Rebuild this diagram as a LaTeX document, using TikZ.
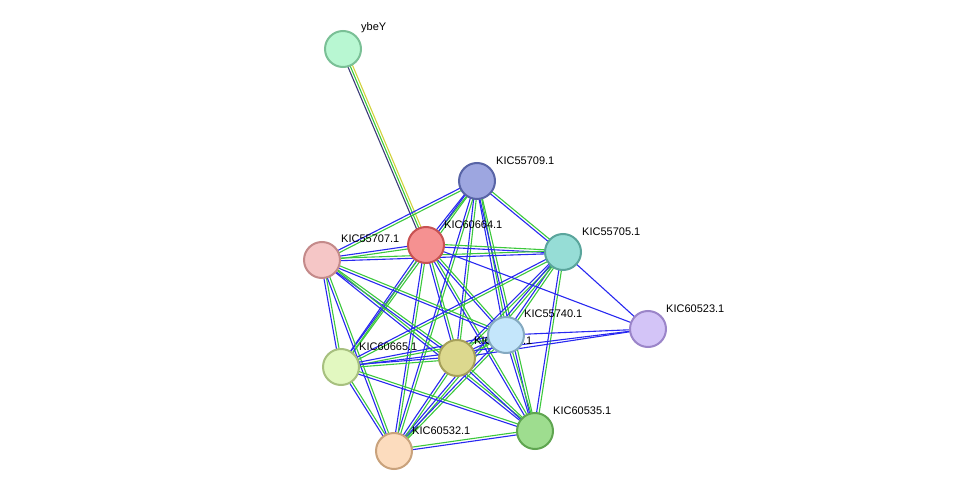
\documentclass[tikz,border=0pt]{standalone}
\usepackage{fontspec}
\setmainfont{Liberation Sans}
\usetikzlibrary{calc}
\tikzset{
  prot/.style={circle,minimum size=36pt,inner sep=0pt,line width=2pt},
  lbl/.style={anchor=south west,inner sep=0pt,font=\fontsize{11}{13}\selectfont},
  gline/.style={draw={rgb,255:red,60;green,200;blue,60},line width=1.1pt},
  bline/.style={draw={rgb,255:red,40;green,40;blue,240},line width=1.1pt}
}
\newcommand{\lnk}[2]{%
  \draw[gline] ($(#1)!1.3pt!90:(#2)$) -- ($(#2)!1.3pt!-90:(#1)$);
  \draw[bline] ($(#1)!1.3pt!-90:(#2)$) -- ($(#2)!1.3pt!90:(#1)$);}
\begin{document}
\begin{tikzpicture}[x=1pt,y=-1pt]
\useasboundingbox (0,0) rectangle (975,497);

% positions
\coordinate (ybeY) at (343,49);
\coordinate (k709) at (477,181);
\coordinate (k664) at (426,245);
\coordinate (k707) at (322,260);
\coordinate (k705) at (563,252);
\coordinate (k523) at (648,329);
\coordinate (k740) at (506,335);
\coordinate (k533) at (457,358);
\coordinate (k665) at (341,367);
\coordinate (k532) at (394,451);
\coordinate (k535) at (535,431);

% edges
\draw[draw={rgb,255:red,210;green,210;blue,60},line width=1.1pt] ($(ybeY)!2.4pt!90:(k664)$) -- ($(k664)!2.4pt!-90:(ybeY)$);
\draw[gline] (ybeY) -- (k664);
\draw[draw={rgb,255:red,60;green,60;blue,120},line width=1.1pt] ($(ybeY)!2.4pt!-90:(k664)$) -- ($(k664)!2.4pt!90:(ybeY)$);
\foreach \a/\b in {k709/k664,k709/k707,k709/k705,k709/k740,k709/k533,k709/k665,k709/k532,k709/k535,
  k664/k707,k664/k705,k664/k740,k664/k533,k664/k665,k664/k532,k664/k535,
  k707/k705,k707/k740,k707/k533,k707/k665,k707/k532,k707/k535,
  k705/k740,k705/k533,k705/k665,k705/k532,k705/k535,
  k740/k533,k740/k665,k740/k532,k740/k535,
  k533/k665,k533/k532,k533/k535,
  k665/k532,k665/k535,k532/k535}{\lnk{\a}{\b}}
\foreach \a in {k664,k705,k740,k533,k665}{\draw[bline] (k523) -- (\a);}

% proteins
\node[prot,fill={rgb,255:red,184;green,247;blue,210},draw={rgb,255:red,122;green,192;blue,150}] (n-ybeY) at (ybeY) {};
\node[prot,fill={rgb,255:red,157;green,166;blue,224},draw={rgb,255:red,88;green,100;blue,166}] (n-k709) at (k709) {};
\node[prot,fill={rgb,255:red,245;green,145;blue,145},draw={rgb,255:red,200;green,82;blue,82}] (n-k664) at (k664) {};
\node[prot,fill={rgb,255:red,245;green,198;blue,198},draw={rgb,255:red,196;green,138;blue,138}] (n-k707) at (k707) {};
\node[prot,fill={rgb,255:red,150;green,221;blue,214},draw={rgb,255:red,90;green,165;blue,156}] (n-k705) at (k705) {};
\node[prot,fill={rgb,255:red,211;green,196;blue,247},draw={rgb,255:red,155;green,133;blue,201}] (n-k523) at (k523) {};
\node[lbl] at (474,345) {KIC60533.1};
\node[prot,fill={rgb,255:red,220;green,216;blue,142},draw={rgb,255:red,166;green,160;blue,90}] (n-k533) at (k533) {};
\node[prot,fill={rgb,255:red,196;green,230;blue,251},draw={rgb,255:red,132;green,169;blue,192}] (n-k740) at (k740) {};
\node[prot,fill={rgb,255:red,226;green,248;blue,192},draw={rgb,255:red,167;green,192;blue,127}] (n-k665) at (k665) {};
\node[prot,fill={rgb,255:red,252;green,220;blue,190},draw={rgb,255:red,201;green,162;blue,124}] (n-k532) at (k532) {};
\node[prot,fill={rgb,255:red,158;green,221;blue,143},draw={rgb,255:red,95;green,165;blue,80}] (n-k535) at (k535) {};

% labels
\node[lbl] at (361,33) {ybeY};
\node[lbl] at (496,165) {KIC55709.1};
\node[lbl] at (444,229) {KIC60664.1};
\node[lbl] at (341,243) {KIC55707.1};
\node[lbl] at (582,236) {KIC55705.1};
\node[lbl] at (666,313) {KIC60523.1};
\node[lbl] at (524,318) {KIC55740.1};
\node[lbl] at (359,351) {KIC60665.1};
\node[lbl] at (412,435) {KIC60532.1};
\node[lbl] at (553,415) {KIC60535.1};
\end{tikzpicture}
\end{document}
